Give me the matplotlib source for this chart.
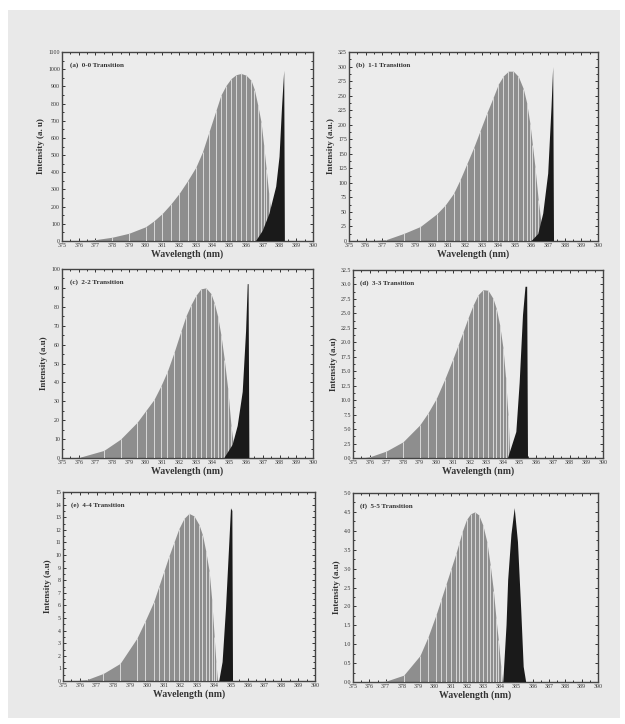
import matplotlib
matplotlib.use("Agg")
import matplotlib.pyplot as plt
from matplotlib.patches import Rectangle
from matplotlib.ticker import MultipleLocator

plt.rcParams['font.family'] = ['Liberation Serif', 'DejaVu Serif']

# --- data ---
labels = ["(a)  0-0 Transition", "(b)  1-1 Transition", "(c)  2-2 Transition",
          "(d)  3-3 Transition", "(e)  4-4 Transition", "(f)  5-5 Transition"]
ylabels = ["Intensity (a. u)", "Intensity (a.u.)", "Intensity (a.u)",
           "Intensity (a.u)", "Intensity (a.u)", "Intensity (a.u)"]
ymax = [1100, 325, 100, 32.5, 15, 5.0]
ystep = [100, 25, 10, 2.5, 1, 0.5]
yfmt = ["%d", "%d", "%d", "%.1f", "%d", "%.1f"]
xticks = list(range(375, 391))

# gray envelope (wavelength, intensity)
env_a_x = [376.0, 377.0, 378.0, 379.0, 380.0, 380.5, 381.0, 381.5, 382.0, 382.5,
           383.0, 383.4, 383.8, 384.2, 384.5, 384.8, 385.1, 385.4, 385.7, 386.0,
           386.3, 386.5, 386.7, 386.9, 387.05, 387.2, 387.35, 387.5, 387.65, 387.8]
env_a_y = [0, 8, 22, 45, 83, 118, 161, 215, 277, 350, 430, 520, 640, 760, 850,
           905, 945, 968, 975, 965, 935, 880, 790, 690, 560, 420, 280, 150, 60, 0]
env_b_x = [376.0, 377.2, 378.3, 379.3, 380.3, 380.8, 381.3, 381.7, 382.1, 382.5,
           382.9, 383.3, 383.7, 384.0, 384.3, 384.6, 384.9, 385.2, 385.5, 385.7,
           385.9, 386.05, 386.2, 386.4, 386.6, 386.8]
env_b_y = [0, 2, 13, 25, 47, 62, 82, 106, 133, 160, 190, 220, 248, 270, 284, 292,
           292, 283, 262, 238, 202, 165, 128, 70, 25, 0]
env_c_x = [375.5, 376.1, 377.5, 378.5, 379.5, 380.0, 380.5, 380.9, 381.3, 381.7,
           382.1, 382.4, 382.7, 383.0, 383.3, 383.6, 383.9, 384.1, 384.3, 384.5,
           384.7, 384.9, 385.1, 385.3, 385.4]
env_c_y = [0, 0.5, 4, 10, 19, 25, 31, 38, 46, 56, 67, 75, 81, 86, 89.5, 90, 87,
           82, 75, 65, 52, 37, 17, 3, 0]
env_d_x = [375.5, 376.0, 377.0, 378.0, 379.0, 379.5, 380.0, 380.5, 381.0, 381.3,
           381.6, 381.9, 382.2, 382.5, 382.8, 383.1, 383.4, 383.6, 383.8, 384.0,
           384.15, 384.3, 384.4, 384.5]
env_d_y = [0, 0.2, 1.2, 2.8, 5.7, 7.8, 10.3, 13.6, 17.2, 19.5, 21.8, 24.2, 26.4,
           28.2, 29.1, 29.0, 27.6, 25.8, 23.0, 19.0, 14.0, 7.4, 1.0, 0]
env_e_x = [375.5, 376.4, 377.4, 378.4, 379.4, 379.9, 380.4, 380.7, 381.0, 381.3,
           381.6, 381.9, 382.2, 382.5, 382.8, 383.1, 383.3, 383.5, 383.7, 383.85,
           384.0, 384.1, 384.2]
env_e_y = [0, 0.1, 0.6, 1.4, 3.4, 4.8, 6.3, 7.5, 8.7, 9.9, 11.0, 12.1, 12.9, 13.3,
           13.1, 12.4, 11.6, 10.3, 8.7, 6.5, 3.5, 1.5, 0]
env_f_x = [376.5, 377.0, 378.1, 379.1, 379.6, 380.1, 380.4, 380.7, 381.0, 381.3,
           381.5, 381.7, 381.95, 382.2, 382.45, 382.7, 382.95, 383.2, 383.4, 383.6,
           383.75, 383.9, 384.05, 384.15]
env_f_y = [0, 0.02, 0.18, 0.7, 1.2, 1.8, 2.2, 2.6, 3.0, 3.4, 3.7, 4.0, 4.3, 4.45,
           4.5, 4.42, 4.15, 3.7, 3.1, 2.4, 1.7, 1.1, 0.4, 0]

# black band-head spike (wavelength, intensity)
spk_a_x = [386.6, 387.0, 387.4, 387.8, 388.0, 388.15, 388.28, 388.32]
spk_a_y = [0, 60, 160, 316, 490, 780, 990, 0]
spk_b_x = [386.0, 386.4, 386.7, 387.0, 387.2, 387.3, 387.35]
spk_b_y = [0, 12, 47, 116, 230, 299, 0]
spk_c_x = [384.7, 385.2, 385.5, 385.8, 386.0, 386.1, 386.15, 386.2]
spk_c_y = [0, 7, 17, 35, 67, 92, 92, 0]
spk_d_x = [384.3, 384.8, 385.0, 385.2, 385.35, 385.45, 385.5]
spk_d_y = [0, 4.5, 13, 24.7, 29.6, 29.6, 0]
spk_e_x = [384.3, 384.5, 384.7, 384.9, 385.0, 385.08, 385.12]
spk_e_y = [0, 1.5, 5.7, 11.0, 13.7, 13.5, 0]
spk_f_x = [384.2, 384.4, 384.5, 384.7, 384.9, 385.1, 385.3, 385.45, 385.6]
spk_f_y = [0, 1.5, 2.7, 3.9, 4.6, 3.7, 1.9, 0.4, 0]

env_x = [env_a_x, env_b_x, env_c_x, env_d_x, env_e_x, env_f_x]
env_y = [env_a_y, env_b_y, env_c_y, env_d_y, env_e_y, env_f_y]
spk_x = [spk_a_x, spk_b_x, spk_c_x, spk_d_x, spk_e_x, spk_f_x]
spk_y = [spk_a_y, spk_b_y, spk_c_y, spk_d_y, spk_e_y, spk_f_y]

# panel boxes in pixels: left, top, right, bottom
boxes = [(62, 52, 313, 241), (349, 52, 598, 241),
         (62, 269, 313, 458), (353, 270, 603, 458),
         (63, 492, 315, 681), (353, 493, 598, 682)]

W, H = 625, 724
fig = plt.figure(figsize=(W / 100, H / 100), dpi=100, facecolor='white')
fig.patches.append(Rectangle((8 / W, 6 / H), 612 / W, 708 / H, transform=fig.transFigure,
                             facecolor='#e9e9e9', edgecolor='none', zorder=-10))

for i in range(6):
    l, t, r, b = boxes[i]
    ax = fig.add_axes([l / W, 1 - b / H, (r - l) / W, (b - t) / H])
    ax.set_facecolor('#ececec')

    ax.fill_between(env_x[i], 0, env_y[i], color='#8e8e8e', lw=0, zorder=2)
    ax.vlines(env_x[i], 0, env_y[i], color='#d8d8d8', lw=0.7, zorder=3)
    ax.fill(spk_x[i], spk_y[i], color='#1a1a1a', lw=0, zorder=4)

    ax.set_xlim(375, 390)
    ax.set_ylim(0, ymax[i])
    ax.set_xticks(xticks)
    ax.xaxis.set_minor_locator(MultipleLocator(0.5))
    ax.yaxis.set_major_locator(MultipleLocator(ystep[i]))
    ax.yaxis.set_minor_locator(MultipleLocator(ystep[i] / 2))
    ax.yaxis.set_major_formatter(plt.FormatStrFormatter(yfmt[i]))
    ax.tick_params(which='both', direction='in', top=True, right=True,
                   labelsize=4.2, pad=1.5, width=0.7, colors='#333333')
    ax.tick_params(which='major', length=2.5)
    ax.tick_params(which='minor', length=1.3)
    for s in ax.spines.values():
        s.set_linewidth(1.0)
        s.set_color('#444444')

    ax.set_xlabel("Wavelength (nm)", fontsize=7, fontweight='bold', labelpad=1,
                  color='#333333')
    ax.set_ylabel(ylabels[i], fontsize=6.5, fontweight='bold', labelpad=2,
                  color='#333333')
    ax.text(0.03, 0.93, labels[i], transform=ax.transAxes, fontsize=5,
            fontweight='bold', color='#333333', va='center')

fig.savefig("out.png", dpi=100)
